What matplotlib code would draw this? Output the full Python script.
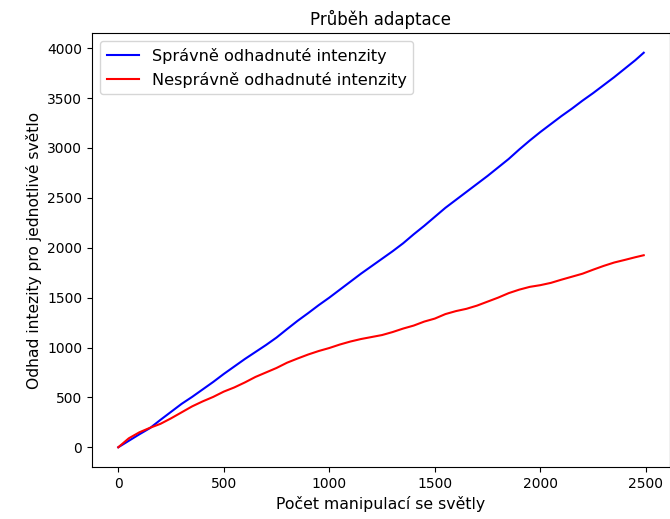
import matplotlib
matplotlib.use('Agg')
import matplotlib.pyplot as plt

# počet manipulací (x) a odhady intenzit
manipulace = [0, 50, 100, 150, 200, 250, 300, 350, 400, 450, 500, 550, 600, 650, 700,
              750, 800, 850, 900, 950, 1000, 1050, 1100, 1150, 1200, 1250, 1300, 1350,
              1400, 1450, 1500, 1550, 1600, 1650, 1700, 1750, 1800, 1850, 1900, 1950,
              2000, 2050, 2100, 2150, 2200, 2250, 2300, 2350, 2400, 2450, 2490]
spravne = [0, 65, 130, 192, 275, 355, 435, 505, 580, 655, 735, 810, 885, 955, 1025,
           1100, 1185, 1268, 1345, 1425, 1500, 1580, 1660, 1740, 1815, 1890, 1965, 2045,
           2135, 2220, 2310, 2400, 2480, 2560, 2640, 2720, 2805, 2890, 2985, 3075,
           3160, 3240, 3320, 3395, 3475, 3550, 3630, 3710, 3795, 3880, 3955]
nespravne = [0, 90, 150, 195, 235, 290, 350, 410, 460, 505, 558, 600, 650, 705, 750,
             795, 848, 890, 930, 965, 995, 1030, 1060, 1085, 1105, 1125, 1155, 1190,
             1220, 1260, 1290, 1335, 1365, 1388, 1420, 1460, 1500, 1545, 1580, 1608,
             1625, 1648, 1680, 1710, 1740, 1780, 1818, 1852, 1878, 1905, 1925]

fig = plt.figure(figsize=(6.7, 5.19), dpi=100)
ax = fig.add_axes([92 / 670, 52 / 519, 578 / 670, 434 / 519])
ax.plot(manipulace, spravne, color='blue', label='Správně odhadnuté intenzity')
ax.plot(manipulace, nespravne, color='red', label='Nesprávně odhadnuté intenzity')
ax.set_title('Průběh adaptace', fontsize=12)
ax.set_xlabel('Počet manipulací se světly', fontsize=11.3)
ax.set_ylabel('Odhad intezity pro jednotlivé světlo', fontsize=11.2)
ax.set_xticks([0, 500, 1000, 1500, 2000, 2500])
ax.set_yticks(range(0, 4001, 500))
ax.legend(loc='upper left', fontsize=11.6)
fig.savefig('out.png', dpi=100)
